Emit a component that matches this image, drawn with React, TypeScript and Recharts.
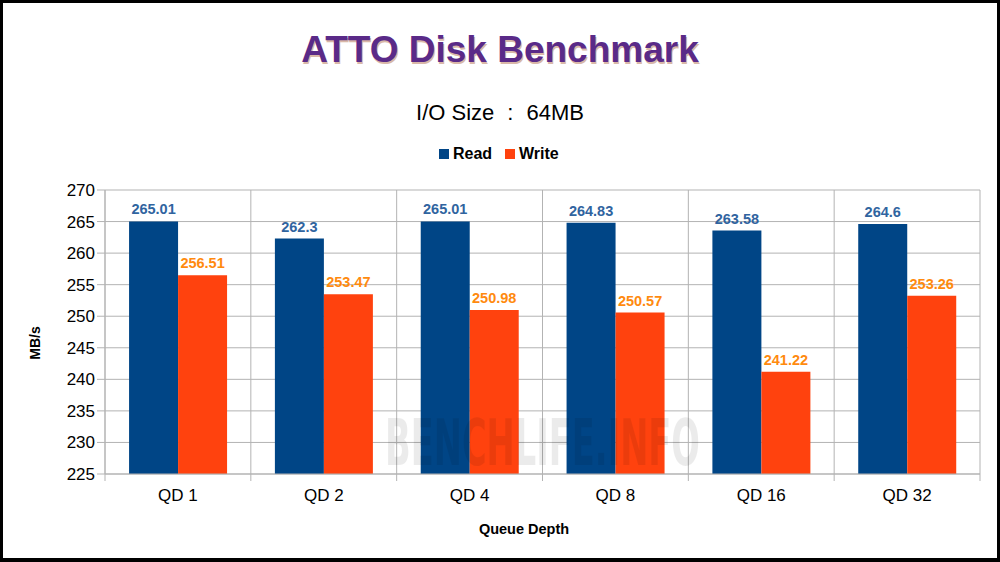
import React from "react";
import {
  BarChart,
  Bar,
  XAxis,
  YAxis,
  CartesianGrid,
  LabelList,
} from "recharts";

const categories = ["QD 1", "QD 2", "QD 4", "QD 8", "QD 16", "QD 32"];
const readValues = [265.01, 262.3, 265.01, 264.83, 263.58, 264.6];
const writeValues = [256.51, 253.47, 250.98, 250.57, 241.22, 253.26];
const yTicks = [225, 230, 235, 240, 245, 250, 255, 260, 265, 270];

const title = "ATTO Disk Benchmark";
const subtitleParts = ["I/O Size", ":", "64MB"];
const xTitle = "Queue Depth";
const yTitle = "MB/s";
const seriesNames = ["Read", "Write"];

const READ_COLOR = "#004586";
const WRITE_COLOR = "#ff420e";
const READ_LABEL = "#30649f";
const WRITE_LABEL = "#ff8a0e";
const GRID = "#b3b3b3";
const FONT = "'Liberation Sans', Arial, sans-serif";

const data = categories.map((c, i) => ({
  name: c,
  read: readValues[i],
  write: writeValues[i],
}));

const XTick = (props: any) => {
  const { x, y, payload, index } = props;
  const off = payload && payload.offset ? payload.offset : 875 / 12;
  const last = index === categories.length - 1;
  return (
    <g>
      <line x1={x - off} x2={x - off} y1={y} y2={y + 7} stroke={GRID} strokeWidth={1} />
      {last && (
        <line x1={x + off} x2={x + off} y1={y} y2={y + 7} stroke={GRID} strokeWidth={1} />
      )}
      <text
        x={x}
        y={y + 27}
        textAnchor="middle"
        fontFamily={FONT}
        fontSize={17}
        fill="#000"
      >
        {payload.value}
      </text>
    </g>
  );
};

export default function App() {
  return (
    <div
      style={{
        position: "absolute",
        left: 0,
        top: 0,
        width: 1000,
        height: 562,
        background: "#fff",
        overflow: "hidden",
      }}
    >
      <div style={{ position: "absolute", left: 0, top: 0 }}>
        <BarChart
          width={1000}
          height={562}
          data={data}
          margin={{ top: 190, right: 20, bottom: 48, left: 0 }}
          barCategoryGap="16.5%"
          barGap={0}
        >
          <CartesianGrid
            stroke={GRID}
            strokeWidth={1}
            verticalCoordinatesGenerator={(p: any) => {
              const off = p.offset;
              const n = categories.length;
              return Array.from({ length: n + 1 }, (_, i) => off.left + (off.width * i) / n);
            }}
          />
          <XAxis
            dataKey="name"
            height={40}
            axisLine={{ stroke: GRID }}
            tickLine={false}
            tickSize={0}
            tickMargin={0}
            tick={<XTick />}
            interval={0}
          />
          <YAxis
            width={105}
            domain={[225, 270]}
            ticks={yTicks}
            interval={0}
            allowDataOverflow
            axisLine={{ stroke: GRID }}
            tickLine={{ stroke: GRID }}
            tickSize={8}
            tickMargin={2}
            tick={{ fontFamily: FONT, fontSize: 17, fill: "#000" }}
          />
          <Bar dataKey="read" fill={READ_COLOR} isAnimationActive={false}>
            <LabelList
              dataKey="read"
              position="top"
              offset={7}
              fill={READ_LABEL}
              fontFamily={FONT}
              fontSize={14.5}
              fontWeight="bold"
            />
          </Bar>
          <Bar dataKey="write" fill={WRITE_COLOR} isAnimationActive={false}>
            <LabelList
              dataKey="write"
              position="top"
              offset={7}
              fill={WRITE_LABEL}
              fontFamily={FONT}
              fontSize={14.5}
              fontWeight="bold"
            />
          </Bar>
        </BarChart>
      </div>
      <svg
        width={1000}
        height={562}
        style={{ position: "absolute", left: 0, top: 0, pointerEvents: "none" }}
      >
        <text
          x={385}
          y={465}
          fontFamily="'DejaVu Sans Condensed', 'DejaVu Sans', sans-serif"
          fontSize={64}
          fontWeight="bold"
          textLength={315}
          lengthAdjust="spacingAndGlyphs"
          fill="#000"
          opacity={0.075}
        >
          BENCHLIFE.INFO
        </text>
        <text
          x={501}
          y={63.5}
          textAnchor="middle"
          fontFamily={FONT}
          fontSize={37}
          fontWeight="bold"
          fill="#d9b8a8"
        >
          {title}
        </text>
        <text
          x={500}
          y={62}
          textAnchor="middle"
          fontFamily={FONT}
          fontSize={37}
          fontWeight="bold"
          fill="#5a2a88"
        >
          {title}
        </text>
        <text
          x={500}
          y={120}
          textAnchor="middle"
          fontFamily={FONT}
          fontSize={22}
          fill="#000"
        >
          <tspan>{subtitleParts[0]}</tspan>
          <tspan dx={13}>{subtitleParts[1]}</tspan>
          <tspan dx={13}>{subtitleParts[2]}</tspan>
        </text>
        <rect x={439} y={149} width={10} height={10} fill={READ_COLOR} />
        <text x={453} y={159} fontFamily={FONT} fontSize={16} fontWeight="bold" fill="#000">
          {seriesNames[0]}
        </text>
        <rect x={505} y={149} width={10} height={10} fill={WRITE_COLOR} />
        <text x={519} y={159} fontFamily={FONT} fontSize={16} fontWeight="bold" fill="#000">
          {seriesNames[1]}
        </text>
        <text
          x={524}
          y={534}
          textAnchor="middle"
          fontFamily={FONT}
          fontSize={14.5}
          fontWeight="bold"
          fill="#000"
        >
          {xTitle}
        </text>
        <text
          x={40}
          y={343}
          textAnchor="middle"
          transform="rotate(-90 40 343)"
          fontFamily={FONT}
          fontSize={14}
          fontWeight="bold"
          fill="#000"
        >
          {yTitle}
        </text>
      </svg>
      <div
        style={{
          position: "absolute",
          left: 0,
          top: 0,
          width: 1000,
          height: 562,
          boxSizing: "border-box",
          borderStyle: "solid",
          borderColor: "#000",
          borderWidth: "3px 3px 4px 3px",
          pointerEvents: "none",
        }}
      />
    </div>
  );
}
